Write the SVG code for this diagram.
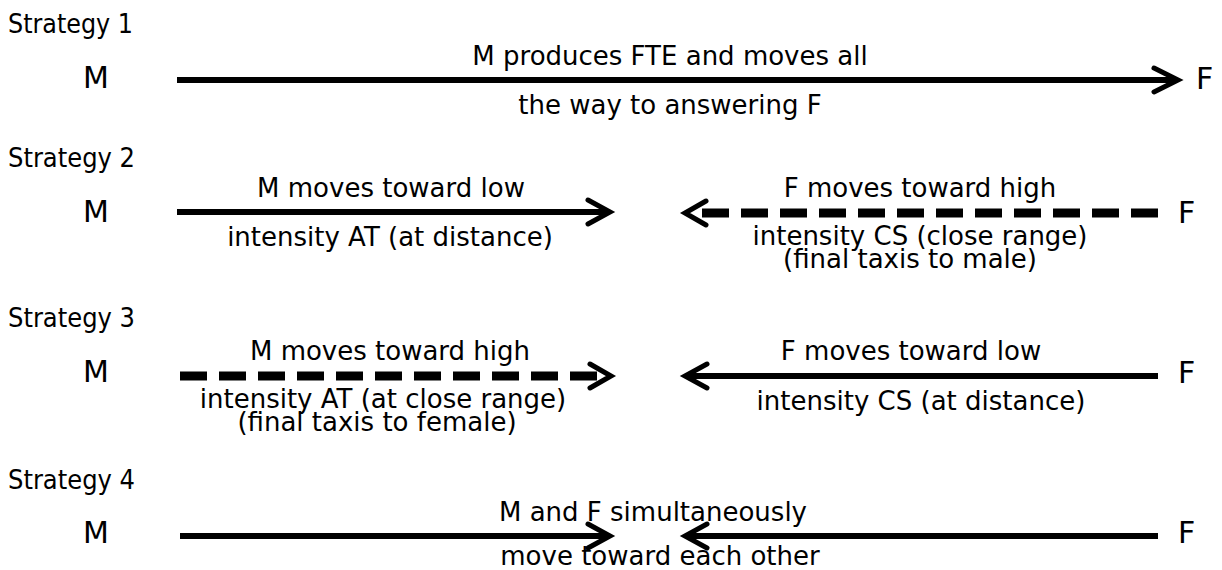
<svg xmlns="http://www.w3.org/2000/svg" width="1222" height="570" viewBox="0 0 1222 570">
<style>
.lbl{font-family:"DejaVu Sans","Liberation Sans",sans-serif;font-size:26px;fill:#000}
.mid{text-anchor:middle}
.node{font-family:"DejaVu Sans","Liberation Sans",sans-serif;font-size:30px;fill:#000}
.solid{stroke:#000;stroke-width:6;fill:none}
.dash{stroke:#000;stroke-width:9;fill:none;stroke-dasharray:27 12}
.head{stroke:#000;stroke-width:5;fill:none;stroke-linecap:round;stroke-linejoin:miter}
</style>
<rect width="1222" height="570" fill="#fff"/>
<g id="titles">
<text class="lbl" x="8" y="33" textLength="125" lengthAdjust="spacingAndGlyphs">Strategy 1</text>
<text class="lbl" x="8" y="167" textLength="127" lengthAdjust="spacingAndGlyphs">Strategy 2</text>
<text class="lbl" x="8" y="327" textLength="127" lengthAdjust="spacingAndGlyphs">Strategy 3</text>
<text class="lbl" x="8" y="489" textLength="127" lengthAdjust="spacingAndGlyphs">Strategy 4</text>
</g>
<g id="node-m1"><text class="node" x="83" y="88">M</text></g>
<g id="node-f1"><text class="node" x="1196" y="89">F</text></g>
<g id="node-m2"><text class="node" x="83" y="222">M</text></g>
<g id="node-f2"><text class="node" x="1178" y="223">F</text></g>
<g id="node-m3"><text class="node" x="83" y="382">M</text></g>
<g id="node-f3"><text class="node" x="1178" y="383">F</text></g>
<g id="node-m4"><text class="node" x="83" y="543">M</text></g>
<g id="node-f4"><text class="node" x="1178" y="543">F</text></g>
<g id="connectors">
<line class="solid" x1="177" y1="80" x2="1176" y2="80"/>
<path class="head" d="M1154 68 L1178 80 L1154 92"/>
<line class="solid" x1="177" y1="212" x2="608" y2="212"/>
<path class="head" d="M588 200 L610 212 L588 224"/>
<line class="dash" x1="1158" y1="213" x2="696" y2="213"/>
<path class="head" d="M706 201 L685 213 L706 225"/>
<line class="dash" x1="180" y1="376" x2="598" y2="376"/>
<path class="head" d="M590 364 L611 376 L590 388"/>
<line class="solid" x1="1158" y1="376" x2="687" y2="376"/>
<path class="head" d="M707 364 L685 376 L707 388"/>
<line class="solid" x1="180" y1="536" x2="608" y2="536"/>
<path class="head" d="M588 524 L610 536 L588 548"/>
<line class="solid" x1="1158" y1="536" x2="687" y2="536"/>
<path class="head" d="M707 524 L685 536 L707 548"/>
</g>
<g id="labels">
<text class="lbl mid" x="670" y="65">M produces FTE and moves all</text>
<text class="lbl mid" x="670" y="114">the way to answering F</text>
<text class="lbl mid" x="391" y="197">M moves toward low</text>
<text class="lbl mid" x="390" y="246">intensity AT (at distance)</text>
<text class="lbl mid" x="920" y="197">F moves toward high</text>
<text class="lbl mid" x="920" y="245">intensity CS (close range)</text>
<text class="lbl mid" x="910" y="268">(final taxis to male)</text>
<text class="lbl mid" x="390" y="360">M moves toward high</text>
<text class="lbl mid" x="383" y="408">intensity AT (at close range)</text>
<text class="lbl mid" x="377" y="431">(final taxis to female)</text>
<text class="lbl mid" x="911" y="360">F moves toward low</text>
<text class="lbl mid" x="921" y="410">intensity CS (at distance)</text>
<text class="lbl mid" x="653" y="521">M and F simultaneously</text>
<text class="lbl mid" x="660" y="565">move toward each other</text>
</g>
</svg>
